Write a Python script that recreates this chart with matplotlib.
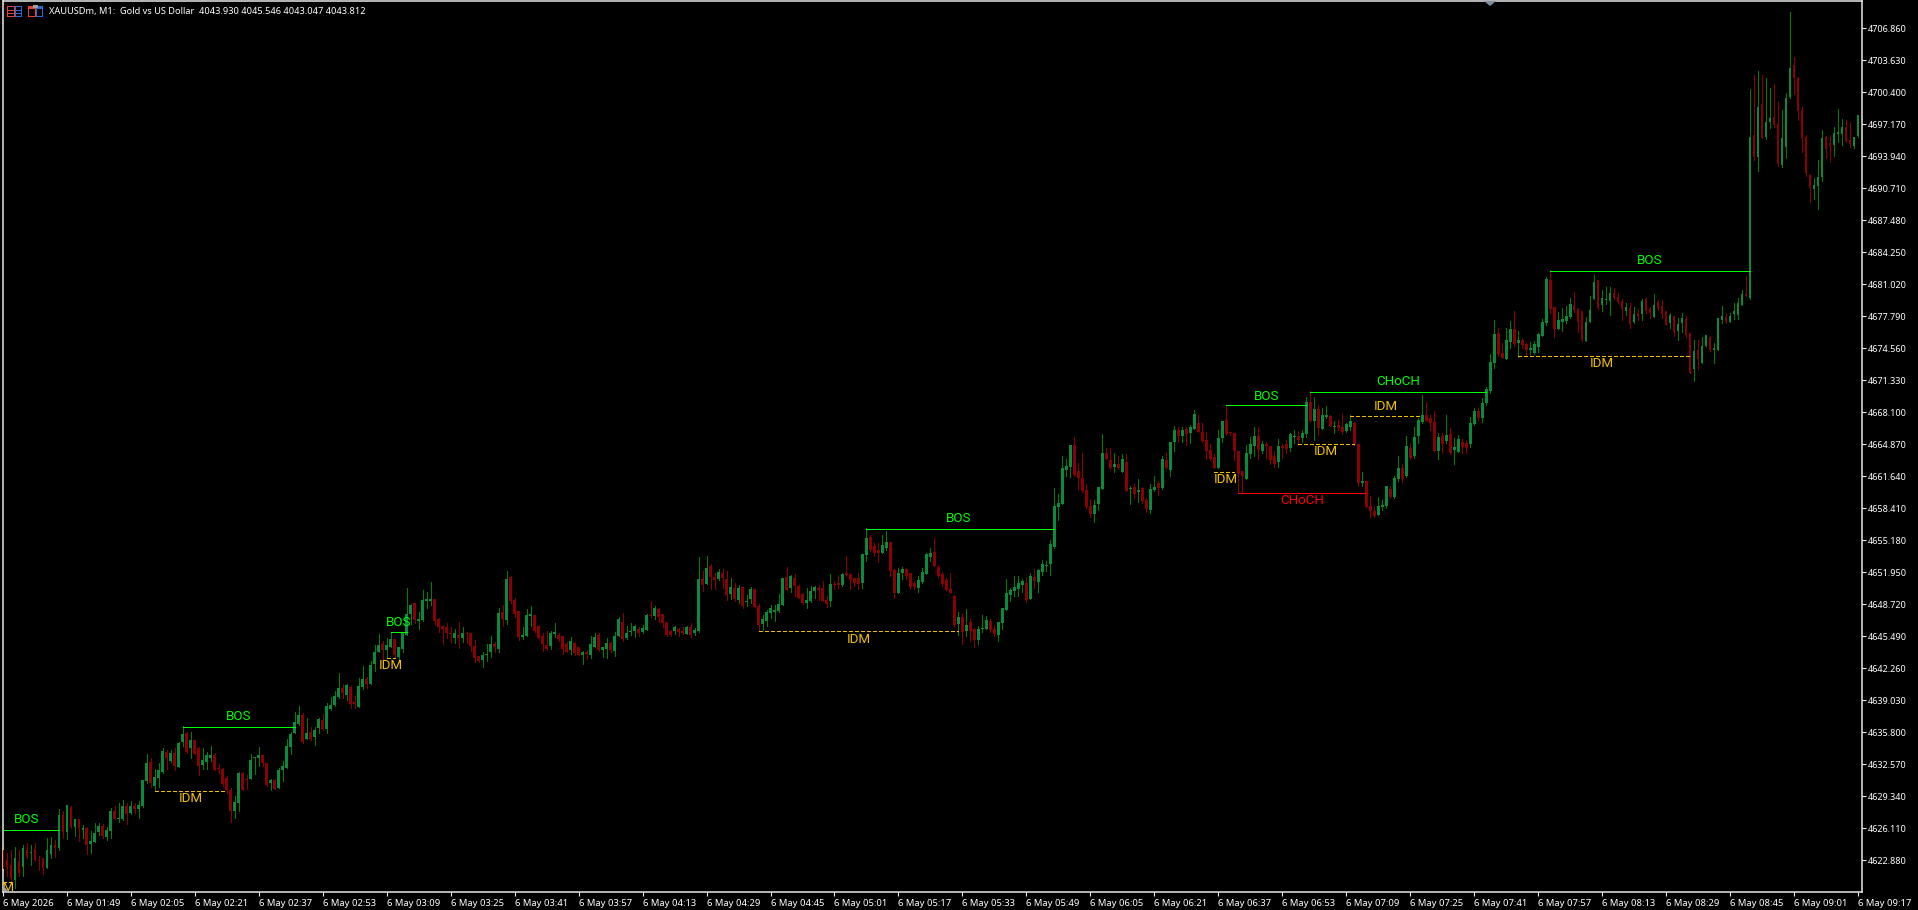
import matplotlib
matplotlib.use("Agg")
import matplotlib.pyplot as plt
import numpy as np
from matplotlib.patches import Rectangle, Polygon

direction = (
    "RRRGRGRGRR" "RGGRGRGRGR" "GRGGGRGGRG" "GRGRGGGRGG" "GRGRGGRGRR"
    "GGGRRRRRGG" "RRGGGRRGRG" "GGGGGRGRGG" "RGGGGRGRRG" "GRGGGRGGRG"
    "GGGRGGGGRR" "RRRGRGRRRR" "GGGRGRGRRR" "GGGRRRRGGR" "RRGRRGRGGR"
    "GGRGGRGGGR" "GGRGRRRRGR" "RGRGGRGRRG" "RRGRGRGGRR" "GGGGGGRGRR"
    "RGGGRRRGRR" "GRRRRGGRRR" "GGRRGGRRRG" "GGGRRRRRRG" "RGRRGGGRRG"
    "GGGGGGRGRG" "GGGGGGGGRR" "RRRGGGRRGR" "GRGRGRRGGR" "GRGGRGRGGR"
    "RRRRGGRRRR" "RGGGRGRRRG" "RRGGRGGRGR" "GGRGRRGGRR" "GRRRGGGRGG"
    "RGRGGGRRRG" "RGRGGRRGGR" "GGGGRRGGRG" "RRGGGGGRRG" "GGGRRRGGGR"
    "GGGRRRGRGR" "GRRGRRRGRG" "GRRGRGGRGG" "GRGGGGRGRG" "RGGRRGGGRR"
    "RRRGGGRRGG" "GRRGG"
)

body_high = [
 4623.9,4622.9,4622.4,4623.1,4622.8,4624.1,4623.9,4623.7,4624.0,4622.9,
 4623.1,4623.9,4624.4,4624.4,4627.5,4627.5,4628.5,4628.3,4627.0,4627.0,
 4626.1,4626.1,4624.8,4625.6,4626.3,4626.3,4625.9,4627.9,4627.9,4627.1,
 4628.4,4628.4,4628.4,4628.4,4628.5,4631.0,4632.7,4632.8,4631.3,4632.0,
 4633.9,4633.8,4633.7,4633.7,4634.7,4635.6,4635.7,4635.0,4635.0,4634.2,
 4633.0,4633.5,4633.5,4633.5,4632.2,4632.1,4631.2,4630.0,4628.8,4631.7,
 4631.7,4631.1,4633.0,4633.3,4633.5,4633.5,4632.7,4631.0,4631.0,4632.0,
 4632.4,4634.4,4635.6,4636.8,4637.5,4637.5,4635.7,4635.8,4636.0,4637.1,
 4637.0,4638.5,4638.6,4639.5,4640.3,4640.3,4640.6,4640.4,4638.9,4640.5,
 4641.2,4641.2,4642.6,4643.9,4644.6,4644.7,4644.6,4645.2,4645.2,4644.4,
 4645.9,4647.7,4648.7,4648.9,4647.2,4649.2,4649.3,4649.3,4649.3,4647.2,
 4646.5,4646.4,4645.8,4645.8,4645.6,4645.8,4645.8,4645.8,4644.5,4643.5,
 4643.6,4643.7,4644.7,4644.7,4647.8,4647.9,4651.3,4651.5,4649.2,4648.0,
 4645.6,4647.6,4647.7,4647.6,4646.5,4645.5,4644.6,4645.8,4645.9,4645.6,
 4645.5,4644.7,4645.0,4644.8,4644.4,4643.9,4643.9,4644.7,4645.4,4645.6,
 4644.4,4644.8,4644.8,4645.5,4647.2,4646.9,4645.8,4646.0,4646.5,4646.2,
 4646.3,4647.6,4647.6,4648.3,4648.2,4647.7,4646.9,4646.0,4646.4,4646.2,
 4646.0,4646.4,4646.4,4646.1,4651.3,4651.3,4652.4,4652.6,4651.5,4652.0,
 4651.9,4651.3,4650.5,4650.4,4650.4,4650.5,4649.1,4650.3,4650.3,4648.5,
 4647.2,4647.9,4648.3,4648.1,4648.8,4651.4,4651.5,4651.6,4651.4,4650.6,
 4649.8,4649.2,4650.1,4650.5,4650.4,4650.4,4649.2,4650.8,4650.8,4650.9,
 4651.8,4651.9,4651.8,4651.4,4651.4,4653.8,4655.4,4655.5,4654.6,4654.2,
 4654.7,4655.0,4655.0,4652.2,4651.9,4652.3,4652.3,4651.9,4650.9,4651.2,
 4652.0,4653.8,4653.9,4654.0,4652.5,4651.8,4651.2,4650.3,4649.6,4647.4,
 4647.4,4646.6,4646.9,4646.2,4646.2,4646.3,4647.1,4647.0,4646.2,4646.9,
 4648.3,4649.9,4650.2,4650.5,4650.9,4651.1,4650.9,4651.6,4651.5,4652.2,
 4652.8,4652.7,4654.8,4658.6,4658.9,4662.5,4662.7,4664.8,4664.8,4662.2,
 4661.5,4660.3,4658.6,4658.7,4660.6,4664.0,4664.0,4663.3,4662.9,4662.9,
 4663.4,4663.1,4660.5,4660.6,4660.3,4660.5,4659.3,4660.4,4660.6,4661.0,
 4663.4,4663.3,4665.1,4666.3,4666.3,4666.3,4666.4,4666.6,4667.9,4667.0,
 4666.1,4665.3,4664.3,4663.6,4665.5,4667.2,4667.3,4666.1,4666.0,4664.2,
 4662.2,4664.0,4664.9,4665.7,4665.7,4664.9,4664.9,4664.7,4663.7,4664.7,
 4664.7,4664.9,4665.9,4665.7,4665.7,4666.0,4669.1,4669.1,4668.4,4668.4,
 4667.8,4667.8,4667.7,4666.7,4666.8,4666.6,4666.9,4667.2,4667.0,4664.9,
 4661.2,4661.2,4658.6,4658.1,4658.6,4658.7,4660.7,4660.4,4661.5,4662.5,
 4662.5,4664.7,4664.5,4665.6,4667.3,4667.8,4667.8,4667.5,4667.1,4665.6,
 4665.7,4665.8,4665.9,4664.6,4665.4,4665.1,4665.0,4667.0,4668.2,4668.2,
 4669.0,4670.5,4673.2,4676.0,4676.1,4674.1,4675.4,4676.5,4676.5,4675.4,
 4675.4,4675.0,4674.6,4675.0,4676.0,4677.2,4681.6,4681.5,4678.7,4677.4,
 4677.5,4677.8,4679.0,4678.9,4678.5,4678.3,4677.2,4678.4,4681.3,4681.5,
 4679.6,4679.5,4680.1,4680.1,4679.7,4679.3,4678.7,4678.6,4678.0,4678.1,
 4679.3,4679.5,4678.5,4678.9,4679.2,4678.8,4678.3,4677.9,4677.8,4677.0,
 4677.6,4677.5,4676.1,4674.3,4674.4,4674.8,4675.9,4675.7,4674.6,4677.6,
 4677.8,4677.7,4677.8,4678.3,4679.1,4680.0,4680.0,4695.9,4696.1,4698.9,
 4699.2,4697.4,4697.8,4697.9,4697.2,4695.8,4699.8,4702.9,4703.2,4701.8,
 4698.6,4695.9,4692.1,4691.0,4691.9,4695.8,4695.9,4695.3,4696.3,4696.4,
 4696.9,4696.9,4695.6,4695.9,4698.1,
]

body_low = [
 4622.0,4622.2,4621.1,4620.9,4621.6,4622.2,4623.2,4623.6,4622.9,4622.8,
 4622.1,4622.1,4623.5,4624.1,4624.1,4625.7,4625.7,4626.2,4626.2,4626.1,
 4625.9,4624.4,4624.5,4624.7,4625.7,4625.3,4625.2,4625.8,4627.0,4627.0,
 4627.0,4627.6,4627.7,4628.1,4628.1,4628.4,4630.9,4630.7,4630.4,4631.2,
 4631.8,4633.2,4632.9,4632.4,4632.3,4634.8,4633.8,4634.2,4633.6,4632.4,
 4632.5,4632.8,4633.2,4632.0,4632.1,4630.6,4630.0,4627.9,4627.9,4628.7,
 4630.0,4631.0,4631.1,4633.2,4633.2,4632.7,4630.5,4630.7,4630.1,4630.2,
 4632.0,4632.2,4634.3,4635.7,4636.6,4634.8,4635.1,4635.1,4635.3,4636.2,
 4636.1,4636.1,4638.2,4638.6,4639.4,4639.8,4639.6,4638.7,4638.7,4638.4,
 4640.4,4640.7,4640.7,4642.7,4643.9,4644.1,4644.1,4644.4,4643.6,4643.4,
 4644.2,4645.6,4647.7,4647.1,4647.0,4647.1,4649.1,4649.1,4647.0,4646.4,
 4646.2,4645.8,4645.7,4645.3,4645.3,4645.3,4645.7,4644.5,4643.3,4643.0,
 4643.1,4643.6,4643.9,4644.4,4644.2,4647.2,4647.1,4649.1,4647.7,4645.4,
 4645.4,4645.5,4647.5,4646.0,4645.3,4644.7,4644.2,4644.5,4645.7,4645.2,
 4644.2,4643.9,4644.1,4643.8,4643.6,4643.6,4643.7,4643.6,4644.4,4644.1,
 4644.1,4644.2,4644.1,4644.0,4645.5,4645.2,4645.3,4645.9,4646.0,4645.8,
 4645.9,4646.1,4647.5,4647.5,4647.4,4646.8,4645.6,4645.6,4646.0,4645.9,
 4645.8,4645.7,4645.6,4645.8,4646.0,4650.7,4650.8,4651.5,4651.2,4651.3,
 4651.4,4649.7,4649.8,4649.3,4649.2,4648.5,4649.0,4649.3,4648.4,4646.6,
 4646.7,4647.0,4647.8,4647.9,4648.0,4648.7,4650.2,4650.4,4650.6,4649.4,
 4648.9,4648.9,4649.1,4650.1,4650.2,4649.1,4648.8,4649.1,4650.7,4650.7,
 4650.7,4651.7,4651.2,4650.9,4650.8,4650.9,4653.7,4654.2,4653.9,4653.9,
 4653.9,4654.4,4652.1,4649.9,4649.9,4651.9,4651.6,4650.5,4650.5,4650.4,
 4651.0,4651.8,4653.5,4652.6,4651.6,4650.8,4650.2,4649.9,4646.6,4646.7,
 4645.9,4646.0,4646.0,4645.1,4645.1,4646.2,4646.2,4646.1,4645.7,4645.6,
 4646.8,4648.1,4649.7,4650.1,4650.3,4650.7,4649.2,4649.3,4651.1,4651.0,
 4652.0,4652.6,4652.8,4654.5,4658.5,4658.8,4662.3,4662.6,4661.8,4661.5,
 4660.2,4658.5,4657.8,4657.8,4658.8,4660.4,4663.4,4662.5,4662.6,4662.5,
 4662.1,4660.2,4660.4,4659.9,4660.1,4659.1,4658.3,4658.2,4660.3,4660.5,
 4660.5,4662.5,4662.3,4665.1,4665.7,4665.7,4665.9,4666.0,4666.4,4666.1,
 4665.2,4664.2,4663.4,4662.5,4662.5,4665.5,4665.9,4666.0,4664.2,4662.0,
 4661.7,4661.4,4663.9,4664.7,4664.3,4664.2,4664.7,4663.3,4662.9,4663.1,
 4664.5,4664.4,4664.5,4665.6,4665.3,4665.5,4665.9,4667.2,4667.2,4666.5,
 4666.4,4667.6,4666.7,4666.6,4666.5,4666.1,4666.2,4666.6,4664.9,4661.0,
 4661.0,4658.5,4658.1,4657.6,4657.7,4658.5,4658.6,4659.6,4659.6,4661.4,
 4661.4,4661.7,4663.5,4663.7,4665.7,4667.1,4667.2,4667.0,4664.2,4664.2,
 4664.9,4665.2,4664.0,4664.3,4664.1,4664.6,4664.5,4664.9,4666.9,4667.5,
 4667.5,4669.0,4670.3,4673.1,4674.0,4673.6,4673.5,4675.2,4675.0,4675.1,
 4674.9,4674.4,4674.4,4674.1,4674.7,4675.8,4677.1,4678.5,4676.5,4676.5,
 4677.2,4677.3,4677.7,4678.4,4677.2,4675.4,4675.3,4677.2,4679.5,4678.6,
 4678.9,4679.4,4679.3,4679.6,4679.2,4678.5,4678.3,4677.0,4677.2,4677.8,
 4678.0,4678.3,4678.1,4677.7,4678.6,4678.0,4676.9,4677.1,4676.2,4676.3,
 4677.1,4675.9,4672.1,4672.5,4673.5,4673.1,4674.8,4674.4,4674.4,4674.4,
 4677.4,4677.2,4677.2,4678.0,4677.9,4678.9,4679.8,4679.6,4693.9,4693.9,
 4695.8,4695.9,4697.4,4697.1,4693.2,4693.1,4694.9,4699.9,4701.8,4698.5,
 4695.8,4692.3,4690.7,4690.6,4690.9,4691.9,4694.7,4695.0,4695.1,4696.2,
 4696.2,4695.5,4695.2,4695.0,4696.0,
]

wick_high = [
 4624.6,4623.6,4623.9,4624.2,4623.9,4624.4,4624.6,4624.4,4624.6,4623.3,
 4623.1,4625.1,4625.2,4624.9,4628.1,4627.9,4628.5,4628.4,4627.0,4627.0,
 4626.4,4626.2,4625.8,4626.6,4626.6,4626.5,4626.2,4628.2,4628.4,4628.7,
 4629.0,4628.7,4628.9,4628.7,4628.9,4631.0,4633.6,4633.2,4632.1,4632.7,
 4634.2,4634.0,4634.0,4634.2,4634.8,4636.4,4635.8,4635.8,4635.0,4634.3,
 4634.2,4633.8,4634.4,4633.7,4632.6,4632.2,4631.4,4630.2,4629.4,4631.8,
 4631.8,4631.5,4633.6,4633.3,4634.3,4633.5,4632.7,4631.1,4631.1,4632.2,
 4632.9,4635.1,4635.8,4637.8,4638.5,4637.7,4637.2,4636.3,4636.3,4637.2,
 4637.6,4638.8,4639.4,4640.0,4641.8,4640.7,4640.7,4640.5,4639.5,4641.3,
 4642.5,4641.4,4643.0,4644.6,4645.7,4645.0,4645.3,4645.9,4645.2,4644.4,
 4645.9,4650.4,4648.8,4648.9,4647.9,4650.2,4650.0,4651.0,4649.3,4647.3,
 4646.6,4646.8,4646.4,4646.2,4646.9,4646.4,4645.9,4645.8,4645.1,4643.5,
 4643.9,4644.7,4645.5,4644.9,4648.3,4648.7,4652.1,4651.6,4649.4,4648.0,
 4646.4,4648.2,4648.5,4647.6,4646.5,4645.8,4646.0,4646.0,4646.8,4645.8,
 4645.5,4644.9,4645.4,4644.9,4644.4,4644.0,4644.1,4645.5,4645.8,4645.8,
 4644.4,4645.3,4644.9,4645.9,4647.4,4647.8,4646.5,4646.8,4646.6,4646.4,
 4646.6,4647.7,4649.1,4648.6,4648.3,4647.7,4646.9,4646.1,4646.5,4646.3,
 4646.4,4646.5,4646.8,4646.3,4653.5,4652.1,4653.6,4652.8,4651.9,4652.3,
 4652.3,4652.1,4651.4,4650.9,4650.7,4650.5,4649.7,4650.5,4650.3,4648.8,
 4647.6,4648.1,4648.7,4648.7,4649.8,4651.4,4652.5,4651.7,4651.8,4650.7,
 4649.9,4650.4,4650.6,4650.6,4650.7,4651.1,4649.6,4651.8,4651.1,4651.6,
 4651.9,4653.6,4651.8,4651.4,4651.9,4653.8,4656.4,4655.7,4654.9,4654.9,
 4655.7,4656.1,4655.0,4652.3,4652.4,4652.5,4652.4,4651.9,4651.1,4651.6,
 4652.4,4653.9,4654.4,4655.4,4652.7,4652.0,4651.4,4651.9,4649.7,4647.9,
 4647.8,4648.2,4647.2,4646.3,4646.5,4647.6,4647.5,4647.2,4646.6,4646.9,
 4648.3,4651.3,4650.4,4651.6,4651.6,4651.3,4651.5,4651.9,4652.3,4652.3,
 4653.2,4653.1,4655.2,4660.5,4659.9,4663.7,4663.4,4664.8,4665.6,4663.0,
 4664.0,4660.9,4659.4,4659.2,4660.6,4665.9,4664.5,4664.5,4664.0,4663.7,
 4663.9,4663.9,4660.7,4660.9,4661.4,4660.6,4659.5,4660.9,4661.7,4661.2,
 4663.7,4664.1,4665.1,4666.7,4666.6,4666.6,4666.6,4666.8,4668.3,4667.8,
 4667.0,4666.1,4664.9,4663.9,4666.3,4667.2,4668.8,4666.1,4666.0,4664.2,
 4662.2,4664.8,4665.6,4666.6,4666.6,4665.2,4665.1,4664.7,4664.2,4665.4,
 4664.9,4665.3,4666.0,4666.3,4666.2,4666.3,4669.6,4670.3,4669.6,4668.8,
 4668.5,4668.7,4667.8,4667.2,4667.3,4667.9,4667.0,4667.8,4667.1,4664.9,
 4662.1,4661.2,4659.7,4658.6,4659.6,4659.2,4660.7,4660.7,4661.7,4663.7,
 4662.9,4665.7,4665.0,4666.6,4667.5,4669.8,4669.1,4667.8,4668.2,4666.0,
 4666.0,4667.8,4666.5,4665.5,4665.8,4665.4,4665.3,4667.6,4668.5,4668.5,
 4669.5,4670.7,4674.0,4677.4,4676.6,4675.1,4676.6,4677.3,4678.3,4676.3,
 4675.5,4675.1,4675.2,4675.3,4676.1,4677.5,4681.8,4682.3,4678.7,4678.2,
 4678.6,4678.8,4679.6,4680.2,4678.6,4678.3,4677.7,4679.8,4682.0,4681.5,
 4680.4,4680.8,4680.7,4680.6,4680.1,4679.5,4679.1,4679.1,4678.7,4678.5,
 4679.5,4679.6,4678.7,4680.0,4679.4,4679.4,4678.3,4678.1,4677.8,4677.6,
 4678.1,4677.8,4676.1,4675.4,4675.4,4675.7,4675.9,4675.8,4675.1,4677.6,
 4678.8,4678.1,4678.1,4679.1,4679.6,4680.4,4681.9,4700.7,4702.2,4702.6,
 4702.1,4701.8,4700.8,4701.2,4699.4,4698.6,4700.3,4708.5,4704.0,4701.9,
 4698.9,4696.1,4692.2,4691.8,4693.6,4696.6,4696.0,4696.1,4696.9,4698.7,
 4697.7,4697.6,4697.4,4695.9,4698.1,
]

wick_low = [
 4621.8,4621.3,4620.6,4620.1,4621.3,4621.3,4623.1,4622.4,4622.8,4621.9,
 4621.5,4622.1,4623.1,4623.2,4623.9,4625.1,4625.0,4626.1,4625.3,4624.8,
 4625.1,4623.5,4623.6,4624.7,4625.4,4625.1,4624.9,4625.1,4627.0,4626.7,
 4626.9,4626.5,4627.6,4627.7,4627.2,4628.3,4630.7,4630.3,4629.9,4630.3,
 4631.7,4632.1,4632.8,4632.0,4632.3,4634.4,4633.7,4633.2,4633.6,4631.5,
 4632.1,4632.1,4632.9,4632.0,4631.7,4630.4,4629.7,4626.7,4627.2,4627.9,
 4630.0,4630.1,4631.1,4631.6,4632.4,4632.4,4630.4,4630.0,4630.1,4630.2,
 4630.9,4632.2,4633.6,4635.7,4636.5,4634.7,4635.1,4635.0,4634.5,4635.7,
 4636.0,4635.7,4638.1,4638.5,4639.3,4639.3,4639.1,4638.3,4638.3,4638.4,
 4640.2,4640.3,4640.7,4642.0,4643.9,4643.2,4643.3,4644.4,4643.3,4643.2,
 4643.9,4645.6,4646.7,4646.8,4646.2,4647.0,4648.3,4648.7,4646.7,4645.9,
 4644.7,4645.3,4644.9,4644.8,4644.3,4644.9,4644.8,4644.0,4642.9,4642.9,
 4642.4,4643.0,4643.4,4643.9,4643.9,4646.5,4646.7,4648.9,4647.4,4645.1,
 4645.2,4645.5,4646.5,4645.9,4645.3,4644.0,4644.1,4644.2,4645.4,4645.0,
 4643.7,4643.9,4643.7,4643.6,4643.6,4642.7,4643.2,4643.3,4644.4,4644.0,
 4643.4,4643.3,4643.9,4643.5,4645.5,4645.0,4645.2,4645.6,4645.4,4645.5,
 4645.8,4646.1,4647.4,4647.2,4646.9,4646.4,4645.5,4645.5,4645.7,4645.5,
 4645.7,4645.7,4645.4,4645.6,4645.9,4650.1,4650.8,4650.3,4650.3,4651.2,
 4650.4,4649.2,4649.3,4649.1,4648.9,4648.3,4648.5,4648.9,4648.4,4646.0,
 4646.1,4646.5,4647.3,4647.0,4647.9,4648.7,4650.2,4650.0,4649.6,4649.4,
 4648.8,4648.3,4649.0,4649.4,4649.2,4649.1,4648.4,4648.6,4650.3,4650.4,
 4650.6,4651.6,4650.3,4650.6,4650.3,4650.4,4653.1,4654.1,4653.6,4653.0,
 4653.9,4654.2,4651.6,4649.4,4649.9,4651.3,4651.3,4650.3,4650.3,4650.0,
 4650.9,4651.8,4653.1,4652.6,4651.5,4650.6,4650.2,4649.9,4646.5,4645.6,
 4644.7,4645.5,4645.0,4644.4,4644.7,4645.9,4646.2,4645.9,4645.5,4645.0,
 4646.2,4648.1,4649.1,4649.6,4649.6,4650.0,4649.0,4649.3,4650.4,4650.0,
 4651.7,4652.1,4651.7,4654.4,4657.2,4658.8,4661.7,4661.6,4661.7,4660.4,
 4660.1,4658.4,4657.5,4657.0,4658.2,4660.4,4663.4,4662.4,4662.1,4662.4,
 4662.1,4660.2,4658.8,4659.5,4659.0,4658.9,4658.0,4657.9,4660.2,4659.8,
 4660.4,4662.4,4661.7,4664.2,4665.1,4665.1,4664.8,4665.0,4666.4,4666.1,
 4665.1,4663.4,4663.3,4662.5,4662.5,4665.1,4665.8,4665.8,4663.3,4660.0,
 4660.0,4661.4,4663.5,4663.7,4663.4,4664.0,4663.5,4662.9,4662.6,4662.6,
 4663.5,4664.0,4664.2,4665.0,4664.8,4665.1,4665.6,4667.1,4665.3,4665.8,
 4666.4,4667.5,4666.7,4666.0,4666.3,4665.9,4666.1,4666.3,4664.8,4660.7,
 4660.7,4658.5,4657.5,4657.5,4657.7,4658.2,4658.4,4659.5,4659.5,4661.2,
 4661.1,4661.6,4663.4,4663.5,4665.0,4667.0,4667.2,4666.3,4664.2,4663.4,
 4664.0,4665.0,4663.9,4662.9,4664.1,4664.0,4664.0,4664.6,4666.8,4667.3,
 4667.1,4668.8,4670.0,4672.6,4673.8,4673.6,4673.5,4674.6,4674.8,4673.7,
 4674.6,4673.8,4674.0,4674.0,4674.2,4675.8,4676.9,4678.1,4675.7,4676.5,
 4676.3,4677.1,4677.6,4678.2,4676.2,4675.3,4675.3,4677.2,4679.5,4678.5,
 4678.3,4679.0,4677.9,4679.5,4679.1,4677.4,4677.9,4676.6,4677.1,4677.4,
 4677.4,4678.1,4677.6,4677.7,4678.4,4677.6,4676.9,4676.6,4675.8,4675.4,
 4676.2,4675.7,4672.1,4671.3,4672.5,4673.1,4674.8,4674.3,4673.1,4674.4,
 4677.1,4677.1,4677.2,4677.5,4677.5,4678.9,4679.8,4679.5,4693.6,4692.5,
 4695.8,4695.7,4696.8,4696.9,4693.0,4692.9,4693.8,4699.8,4700.2,4697.6,
 4694.4,4692.0,4689.3,4689.6,4688.6,4691.4,4693.8,4693.4,4694.0,4695.4,
 4695.1,4695.4,4694.9,4694.8,4695.9,
]

price_ticks = [4622.88, 4626.11, 4629.34, 4632.57, 4635.80, 4639.03, 4642.26,
               4645.49, 4648.72, 4651.95, 4655.18, 4658.41, 4661.64, 4664.87,
               4668.10, 4671.33, 4674.56, 4677.79, 4681.02, 4684.25, 4687.48,
               4690.71, 4693.94, 4697.17, 4700.40, 4703.63, 4706.86]
time_labels = ["6 May 2026", "6 May 01:49", "6 May 02:05", "6 May 02:21", "6 May 02:37",
               "6 May 02:53", "6 May 03:09", "6 May 03:25", "6 May 03:41", "6 May 03:57",
               "6 May 04:13", "6 May 04:29", "6 May 04:45", "6 May 05:01", "6 May 05:17",
               "6 May 05:33", "6 May 05:49", "6 May 06:05", "6 May 06:21", "6 May 06:37",
               "6 May 06:53", "6 May 07:09", "6 May 07:25", "6 May 07:41", "6 May 07:57",
               "6 May 08:13", "6 May 08:29", "6 May 08:45", "6 May 09:01", "6 May 09:17"]

level_text = ["BOS", "BOS", "BOS", "BOS", "BOS", "CHoCH", "BOS", "CHoCH"]
level_price = [4625.9, 4636.3, 4645.9, 4656.3, 4668.8, 4670.2, 4682.4, 4660.0]
level_start = [0, 45, 97, 216, 306, 327, 387, 309]
level_end = [14, 73, 101, 263, 326, 371, 437, 341]
level_label_bar = [6, 59, 99, 239, 316, 349, 412, 325]
level_label_price = [4627.0, 4637.4, 4646.9, 4657.4, 4669.7, 4671.2, 4683.4, 4659.2]
level_color = ["#00ff00"] * 7 + ["#ff0000"]

idm_price = [4620.7, 4629.9, 4643.3, 4646.0, 4662.1, 4664.9, 4667.7, 4673.8]
idm_start = [0, 38, 96, 189, 303, 324, 337, 379]
idm_end = [2, 56, 98, 239, 308, 338, 355, 422]
idm_label_bar = [0, 47, 97, 214, 306, 331, 346, 400]
idm_label_price = [4620.1, 4629.1, 4642.5, 4645.2, 4661.3, 4664.1, 4668.7, 4673.0]

W, H = 1918, 910
BG = "#000000"
FRAME = "#e8e8e8"
GREEN_WICK = "#008000"
GREEN_BODY = "#0a8a3c"
RED_WICK = "#8b0000"
RED_BODY = "#8b0000"
GOLD = "#f0c000"

fig = plt.figure(figsize=(W / 100, H / 100), dpi=100, facecolor=BG)
ax = fig.add_axes([2.5 / W, 1 - 892 / H, (1862 - 2.5) / W, (892 - 1) / H], facecolor=BG)

n = len(direction)
bars = np.arange(n)
hi_b, lo_b = np.array(body_high), np.array(body_low)
hi_w, lo_w = np.array(wick_high), np.array(wick_low)
up = np.array([c == "G" for c in direction])

for mask, wc, bc in ((up, GREEN_WICK, GREEN_BODY), (~up, RED_WICK, RED_BODY)):
    ax.vlines(bars[mask], lo_w[mask], hi_w[mask], colors=wc, linewidth=0.7,
              antialiased=False, zorder=2)
    ax.bar(bars[mask], np.maximum(hi_b[mask] - lo_b[mask], 0.1), bottom=lo_b[mask],
           width=0.68, color=bc, linewidth=0, antialiased=False, zorder=3)

label_font = dict(family="Roboto", fontsize=9.6, ha="center", va="center", zorder=6)
for t, p, s, e, lb, lp, c in zip(level_text, level_price, level_start, level_end,
                                 level_label_bar, level_label_price, level_color):
    ax.plot([s, e], [p, p], color=c, linewidth=0.7, antialiased=False,
            solid_capstyle="butt", zorder=5)
    ax.text(lb, lp, t, color=c, **label_font)
for p, s, e, lb, lp in zip(idm_price, idm_start, idm_end, idm_label_bar, idm_label_price):
    ax.plot([s, e], [p, p], color=GOLD, linewidth=0.7, linestyle=(0, (4.0, 2.7)),
            dash_capstyle="butt", antialiased=False, zorder=5)
    ax.text(lb, lp, "IDM", color=GOLD, clip_on=True, **label_font)

ax.set_xlim(-0.1, 465)
ax.set_ylim(4619.68, 4709.62)

ax.set_yticks(price_ticks)
ax.set_yticklabels([f"{v:.3f}" for v in price_ticks], family="Noto Sans", fontsize=6.5, color="white")
ax.set_xticks(np.arange(len(time_labels)) * 16)
ax.set_xticklabels(time_labels, family="Noto Sans", fontsize=6.8, color="white", ha="left")
ax.yaxis.tick_right()
ax.tick_params(axis="y", length=3, width=0.8, color=FRAME, pad=1.2)
ax.tick_params(axis="x", length=3, width=0.8, color=FRAME, pad=2.0)
for sp in ax.spines.values():
    sp.set_color(FRAME)
    sp.set_linewidth(1.1)

def px(x, y):
    return x / W, 1 - y / H

def frect(x0, y0, x1, y1, **kw):
    xa, ya = px(x0, y1)
    fig.add_artist(Rectangle((xa, ya), (x1 - x0) / W, (y1 - y0) / H,
                             transform=fig.transFigure, linewidth=0, **kw))

def tri(points, color):
    fig.add_artist(Polygon([px(*p) for p in points], closed=True, transform=fig.transFigure,
                           facecolor=color, edgecolor="none"))

# header icons
for x0, x1, col in ((7, 14.5, "#e84030"), (14.5, 22, "#2a6ad8")):
    frect(x0, 6, x1, 17, facecolor=col)
    frect(x0 + 1, 7, x1 - 1, 16, facecolor=BG)
    frect(x0 + 1, 9.5, x1 - 1, 10.5, facecolor=col)
    frect(x0 + 1, 12.5, x1 - 1, 13.5, facecolor=col)
frect(28, 6, 35.5, 17, facecolor="#e84030")
frect(29, 9, 34.5, 16, facecolor=BG)
frect(35.5, 6, 43, 17, facecolor="#2a6ad8")
frect(36.5, 9, 42, 16, facecolor=BG)
frect(33, 5, 38, 8, facecolor="#a0a0a0")

fig.text(48.7 / W, 1 - 11.3 / H, "XAUUSDm, M1:  Gold vs US Dollar  4043.930 4045.546 4043.047 4043.812",
         family="Noto Sans", fontsize=6.65, color="white", va="center", ha="left")

tri([(1484, 1), (1496, 1), (1490, 6)], "#8090a4")
tri([(3, 891), (8, 891), (3, 885)], "#a0a0a0")

fig.savefig("out.png", dpi=100, facecolor=BG)
